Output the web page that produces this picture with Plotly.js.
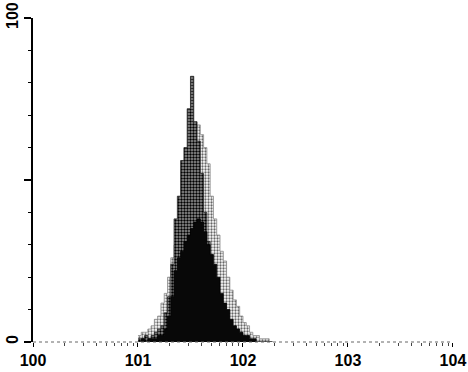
<!DOCTYPE html>
<html><head><meta charset="utf-8">
<script src="https://cdn.plot.ly/plotly-3.0.1.min.js"></script>
<style>html,body{margin:0;padding:0;background:#fff}</style>
</head><body><div id="chart" style="width:468px;height:372px"></div>
<script>
// instrument channels (256 channels over 4 log decades)
const channels = [64,66,68,70,72,74,76,78,80,82,84,86,88,90,92,94,96,98,100,102,104,106,108,110,112,114,116,118,120,122,124,126,128,130,132,134,136,138,140,142,144,146];
const countsLight = [2,3,3,4,5,7,8,12,15,20,26,30,37,44,50,56,62,66,67,64,60,55,45,38,33,28,25,20,16,13,11,8,6,5,3,2,2,1,1,1,0,0];
const countsDark  = [1,1,2,1,2,3,4,5,9,14,24,38,45,56,60,72,82,68,62,52,40,31,22,15,10,7,4,3,2,1,1,1,0,0,0,0,0,0,0,0,0,0];
const countsBlack = [0,1,0,1,1,1,2,2,4,8,14,22,26,28,31,33,35,37,38,37,34,30,27,24,20,15,12,10,7,5,4,3,2,2,1,1,0,0,0,0,0,0];
const xTickVals = [1,10,100,1000,10000];
const xTickText = ['100','101','102','103','104'];
const yTickVals = [0,50,100];
const yTickText = ['0','','100'];

const CHANNELS_PER_DECADE = 64;
const xs = channels.map(c => Math.pow(10, c / CHANNELS_PER_DECADE));

function hist(counts, lineColor, fillColor, pattern) {
  const t = {
    type: 'scatter', mode: 'lines', x: xs, y: counts,
    line: {shape: 'hv', width: 0.8, color: lineColor},
    fill: 'tozeroy', fillcolor: fillColor,
    hoverinfo: 'skip', showlegend: false
  };
  if (pattern) t.fillpattern = pattern;
  return t;
}

const data = [
  hist(countsLight, '#8a8a8a', '#c8c8c8', {shape: '.', size: 3, solidity: 0.45, fgcolor: '#666', bgcolor: '#fff'}),
  hist(countsDark, '#222', '#444', {shape: '.', size: 3, solidity: 0.5, fgcolor: '#000', bgcolor: '#999'}),
  hist(countsBlack, '#000', '#080808')
];

const font = {family: 'Liberation Sans Narrow, Arial Narrow, sans-serif', size: 16, color: '#000', weight: 'bold'};

const layout = {
  width: 468, height: 372,
  margin: {l: 33, r: 15, t: 18, b: 30, pad: 0},
  paper_bgcolor: '#fff', plot_bgcolor: '#fff',
  showlegend: false,
  xaxis: {
    type: 'log', range: [0, 4.0005],
    tickmode: 'array', tickvals: xTickVals, ticktext: xTickText,
    ticks: 'outside', ticklen: 4, tickwidth: 1, tickcolor: '#000',
    minor: {dtick: 'D1', ticks: 'outside', ticklen: 3, tickcolor: '#444', tickwidth: 1},
    showline: false, showgrid: false, zeroline: false,
    tickfont: font, ticklabelstandoff: 0,
    ticklabeloverflow: 'allow'
  },
  yaxis: {
    range: [0, 100], tickmode: 'array', tickvals: yTickVals, ticktext: yTickText,
    ticks: 'outside', ticklen: 7, tickwidth: 1.2, tickcolor: '#000',
    minor: {dtick: 10, ticks: 'outside', ticklen: 3, tickcolor: '#000', tickwidth: 1},
    tickangle: -90,
    showline: true, linecolor: '#000', linewidth: 2, mirror: false,
    showgrid: false, zeroline: false,
    tickfont: font, ticklabeloverflow: 'allow'
  },
  shapes: [{type: 'line', xref: 'paper', yref: 'paper', x0: 0, x1: 1, y0: 0, y1: 0,
            line: {color: '#666', width: 1, dash: 'dot'}}]
};

Plotly.newPlot('chart', data, layout, {displayModeBar: false, staticPlot: true});
</script></body></html>
